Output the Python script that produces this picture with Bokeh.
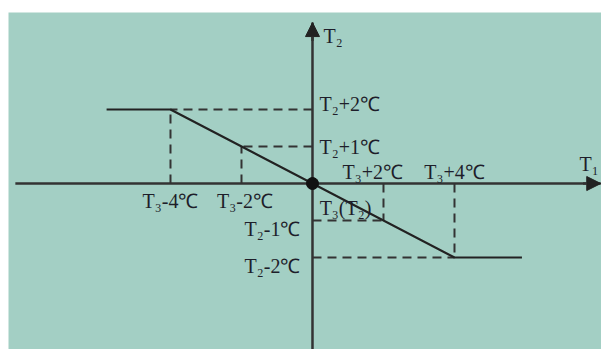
from bokeh.plotting import figure
from bokeh.models import Range1d, Arrow, NormalHead
from bokeh.core.properties import value
from bokeh.embed import file_html
from bokeh.resources import INLINE

# characteristic: T2 setpoint shift vs T1 offset
curve_x = [-5.8, -4, 4, 5.9]
curve_y = [2, 2, -2, -2]

# guide (dashed) lines: corner points on the curve
guide_x = [-4, -2, 2, 4]
guide_y = [2, 1, -1, -2]

# axes extents
x_axis = [-8.37, 8.12]
y_axis = [-4.6, 4.35]

# labels
x_tick_labels = ["T₃-4℃", "T₃-2℃", "T₃+2℃", "T₃+4℃"]
x_tick_pos = [-4.0, -1.9, 1.7, 4.0]
x_tick_y = [-0.46, -0.46, 0.30, 0.30]
y_tick_labels = ["T₂+2℃", "T₂+1℃", "T₂-1℃", "T₂-2℃"]
y_tick_pos = [2.16, 1.0, -1.22, -2.24]
origin_label = "T₃(T₂)"
axis_names = ["T₁", "T₂"]

BG = "#a3cfc4"
INK = "#1e1e2a"
FONT = value("'Liberation Serif', serif")
FS = "20px"

p = figure(width=601, height=349, output_backend="svg", toolbar_location=None,
           x_range=Range1d(-8.563, 8.141), y_range=Range1d(-4.486, 4.622),
           min_border_left=8, min_border_right=0, min_border_top=12, min_border_bottom=0)
p.axis.visible = False
p.grid.visible = False
p.outline_line_color = None
p.background_fill_color = BG
p.border_fill_color = "white"

# axes
p.line(x_axis, [0, 0], line_color="#333333", line_width=2.5)
p.line([0, 0], y_axis, line_color="#333333", line_width=2.5)
p.add_layout(Arrow(end=NormalHead(size=14, fill_color="#222222", line_color="#222222"),
                   x_start=x_axis[1] - 0.5, y_start=0, x_end=x_axis[1], y_end=0,
                   line_color="#333333", line_width=2.5))
p.add_layout(Arrow(end=NormalHead(size=14, fill_color="#222222", line_color="#222222"),
                   x_start=0, y_start=y_axis[1] - 0.5, x_end=0, y_end=y_axis[1],
                   line_color="#333333", line_width=2.5))

# dashed guides
for gx, gy in zip(guide_x, guide_y):
    p.line([0, gx], [gy, gy], line_color="#333333", line_width=2, line_dash="9 6")
    p.line([gx, gx], [0, gy], line_color="#333333", line_width=2, line_dash="9 6")

# main curve
p.line(curve_x, curve_y, line_color="#222222", line_width=2.2)

# origin dot
p.scatter([0], [0], size=12, color="#111111")

# labels
p.text(x=x_tick_pos, y=x_tick_y, text=x_tick_labels, text_font=FONT,
       text_font_size=FS, text_color=INK, text_align="center", text_baseline="middle")
p.text(x=[0.2, 0.2], y=y_tick_pos[:2], text=y_tick_labels[:2], text_font=FONT,
       text_font_size=FS, text_color=INK, text_align="left", text_baseline="middle")
p.text(x=[-0.34, -0.34], y=y_tick_pos[2:], text=y_tick_labels[2:], text_font=FONT,
       text_font_size=FS, text_color=INK, text_align="right", text_baseline="middle")
p.text(x=[0.93], y=[-0.65], text=[origin_label], text_font=FONT,
       text_font_size=FS, text_color=INK, text_align="center", text_baseline="middle")
p.text(x=[7.52, 0.31], y=[0.54, 4.0], text=axis_names, text_font=FONT,
       text_font_size=FS, text_color=INK, text_align="left", text_baseline="middle")

open("out.html", "w").write(file_html(p, INLINE))
